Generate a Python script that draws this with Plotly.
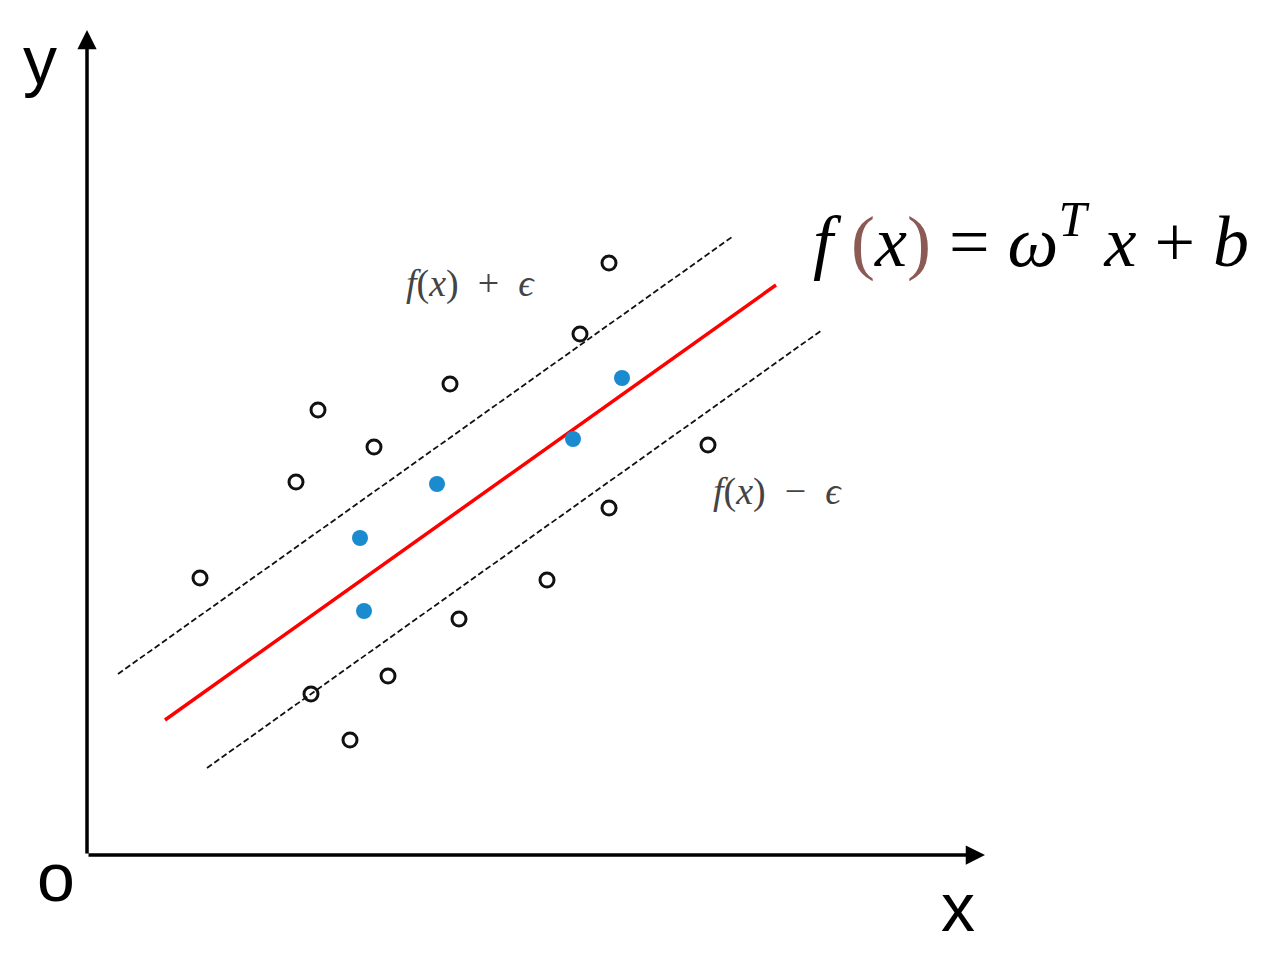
import plotly.graph_objects as go

# pixel-read positions, origin at the axes corner (x right, y up)
open_x = [522, 493, 363, 231, 287, 209, 621, 522, 113, 460, 372, 301, 224, 263]
open_y = [592, 521, 471, 445, 408, 373, 410, 347, 277, 275, 236, 179, 161, 115]
fill_x = [535, 486, 350, 273, 277]
fill_y = [477, 416, 371, 317, 244]

fit_x = [78, 689]
fit_y = [135, 570]
upper_x = [31, 645]
upper_y = [181, 618]
lower_x = [120, 735]
lower_y = [87, 525]

axis_y_x = [0, 0]
axis_y_y = [0, 825]
axis_x_x = [0, 898]
axis_x_y = [0, 0]

fig = go.Figure()

fig.add_trace(go.Scatter(x=upper_x, y=upper_y, mode="lines",
                         line=dict(color="#111", width=1.8, dash="6px,3px")))
fig.add_trace(go.Scatter(x=lower_x, y=lower_y, mode="lines",
                         line=dict(color="#111", width=1.8, dash="6px,3px")))
fig.add_trace(go.Scatter(x=fit_x, y=fit_y, mode="lines",
                         line=dict(color="#ff0000", width=3.5)))
fig.add_trace(go.Scatter(x=open_x, y=open_y, mode="markers",
                         marker=dict(symbol="circle-open", size=14, color="#111",
                                     line=dict(width=3))))
fig.add_trace(go.Scatter(x=fill_x, y=fill_y, mode="markers",
                         marker=dict(size=16, color="#1b8bcf")))

# axes with arrow heads
for ax_x, ax_y in [(axis_y_x, axis_y_y), (axis_x_x, axis_x_y)]:
    fig.add_annotation(x=ax_x[1], y=ax_y[1], ax=ax_x[0], ay=ax_y[0],
                       xref="x", yref="y", axref="x", ayref="y",
                       text="", showarrow=True, arrowhead=2, arrowsize=1.1,
                       arrowwidth=3.5, arrowcolor="#000")

sans = "Liberation Sans, Arial, sans-serif"
serif = "Liberation Serif, Times New Roman, serif"
fig.add_annotation(x=-47, y=795, text="y", showarrow=False,
                   font=dict(family=sans, size=68, color="#000"))
fig.add_annotation(x=-31, y=-22, text="o", showarrow=False,
                   font=dict(family=sans, size=68, color="#000"))
fig.add_annotation(x=871, y=-52, text="x", showarrow=False,
                   font=dict(family=sans, size=68, color="#000"))

par = "<span style='color:#8b5a55'>%s</span>"
formula = ("<i>f</i> " + par % "(" + "<i>x</i>" + par % ")" +
           " = <i>ω</i><sup><i>T</i></sup> <i>x</i> + <i>b</i>")
fig.add_annotation(x=944, y=619, text=formula, showarrow=False,
                   font=dict(family=serif, size=72, color="#000"))
fig.add_annotation(x=383, y=572, text="<i>f</i>(<i>x</i>)  +  <i>ϵ</i>", showarrow=False,
                   font=dict(family=serif, size=38, color="#444"))
fig.add_annotation(x=690, y=364, text="<i>f</i>(<i>x</i>)  −  <i>ϵ</i>", showarrow=False,
                   font=dict(family=serif, size=38, color="#444"))

fig.update_layout(
    width=1285, height=964,
    margin=dict(l=0, r=0, t=0, b=0),
    plot_bgcolor="white", paper_bgcolor="white",
    showlegend=False,
    xaxis=dict(range=[-79, 1206], visible=False),
    yaxis=dict(range=[-117, 847], visible=False),
)

fig.write_html("out.html")
